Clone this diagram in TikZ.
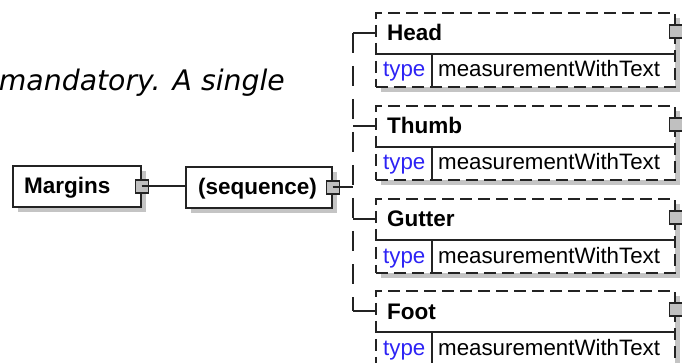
\documentclass[tikz,border=0pt]{standalone}
\usepackage{fontspec}
\setmainfont{Liberation Sans}
\newfontfamily\obl{DejaVu Sans Oblique}
\usetikzlibrary{shadows}
\definecolor{lineC}{RGB}{35,35,35}
\definecolor{shadowC}{RGB}{196,196,196}
\definecolor{sqC}{RGB}{192,192,192}
\definecolor{typeC}{RGB}{45,35,245}
\begin{document}
\begin{tikzpicture}[x=1pt,y=-1pt,
  gshadow/.style={general shadow={fill=shadowC,shadow xshift=5pt,shadow yshift=-5pt}},
  box/.style={draw=lineC,line width=1.7pt,fill=white,rectangle,inner sep=0pt},
  cbox/.style={box,dash pattern=on 12pt off 6pt,minimum width=299pt,minimum height=74pt},
  inner/.style={draw=lineC,line width=1.7pt},
  conn/.style={draw=lineC,line width=1.7pt},
  busline/.style={draw=lineC,line width=1.7pt,dash pattern=on 20pt off 13pt},
  sq/.style={draw=lineC,fill=sqC,line width=1.4pt,minimum size=13pt,inner sep=0pt,rectangle},
  ttl/.style={font=\bfseries\fontsize{22.5}{26}\selectfont,anchor=base west,inner sep=0pt},
  typ/.style={font=\fontsize{22.3}{26}\selectfont,text=typeC,anchor=base west,inner sep=0pt},
  val/.style={font=\fontsize{22.3}{26}\selectfont,text=black,anchor=base west,inner sep=0pt}]
\useasboundingbox (0,0) rectangle (682,363);
\clip (0,0) rectangle (682,363);

\node[font=\obl\fontsize{28.3}{32}\selectfont,anchor=base east,inner sep=0pt] (note) at (285,91) {mandatory. A single};

% Margins
\node[box,gshadow,minimum width=128pt,minimum height=41pt,anchor=north west] (m) at (12,165) {};
\node[ttl] (mt) at (24,194) {Margins};
\node[sq] (msq) at (m.east) {};
% sequence
\node[box,gshadow,minimum width=146pt,minimum height=41pt,anchor=north west] (s) at (185,166) {};
\node[ttl] (st) at (198,195) {(sequence)};
\node[sq] (ssq) at (s.east) {};
\draw[conn] (msq.center) -- (msq.center -| s.west);

% children
\foreach \n/\t/\y in {h/Head/12,t/Thumb/105,g/Gutter/198,f/Foot/290}{
  \node[cbox,gshadow,anchor=north west] (\n) at (375,\y) {};
  \draw[inner] ([yshift=-42pt]\n.north west) -- ([yshift=-42pt]\n.north east);
  \draw[inner] ([shift={(57pt,-42pt)}]\n.north west) -- ([xshift=57pt]\n.south west);
  \node[ttl] (\n-t) at (387,\y+29) {\t};
  \node[typ] (\n-y) at (383,\y+65) {type};
  \node[val] (\n-v) at (438,\y+65) {measurementWithText};
  \node[sq] (\n-s) at ([yshift=-19.5pt]\n.north east) {};
  \coordinate (\n-b) at (353,\y+21);
  \draw[conn] (\n-b) -- (\n-b -| \n.west);
}
\draw[busline] (h-b) -- (f-b);
\draw[conn] (ssq.center) -- (ssq.center -| h-b);
\end{tikzpicture}
\end{document}
